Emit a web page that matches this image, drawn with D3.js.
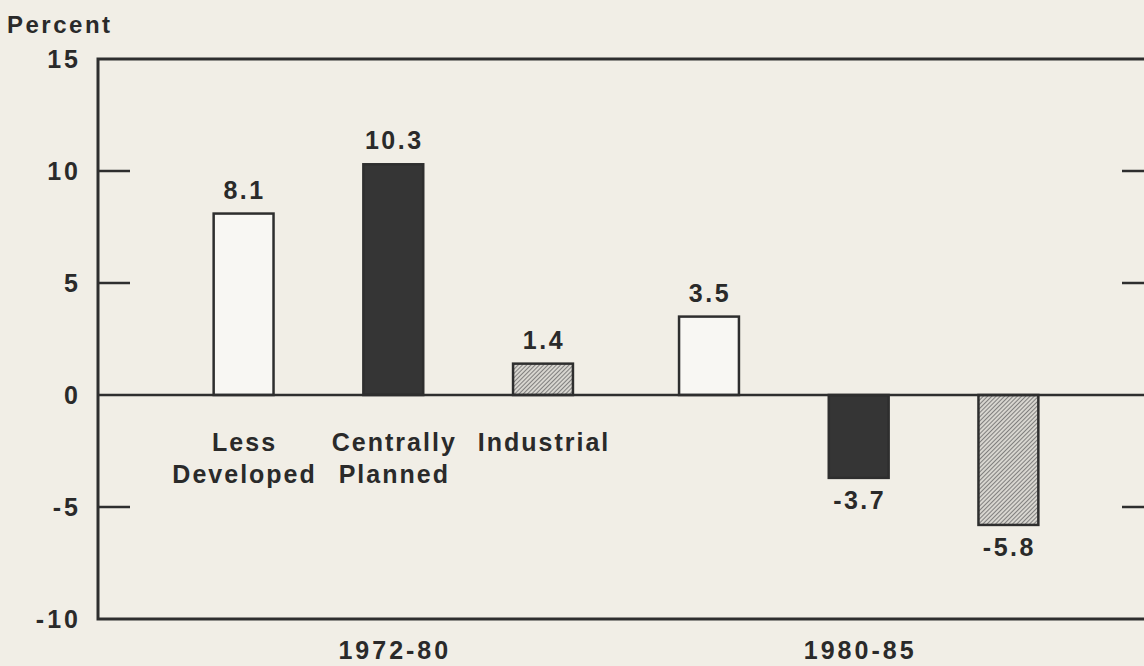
<!DOCTYPE html>
<html>
<head>
<meta charset="utf-8">
<script src="https://d3js.org/d3.v7.min.js"></script>
<style>
  body { margin: 0; background: #f1eee6; }
  text { font-family: "Liberation Sans", Arial, sans-serif; font-weight: bold; fill: #2a2a2a; }
</style>
</head>
<body>
<div id="chart-area"></div>
<script>
// data
const periods = ["1972-80", "1980-85"]
const regions = ["Less Developed", "Centrally Planned", "Industrial"]
const regionLines = [["Less", "Developed"], ["Centrally", "Planned"], ["Industrial"]]
const values7280 = [8.1, 10.3, 1.4]
const values8085 = [3.5, -3.7, -5.8]
const yLabelTicks = [-10, -5, 0, 5, 10, 15]
const innerTicks = [-5, 5, 10]

const data = []
periods.forEach((p, i) => {
  const vals = i === 0 ? values7280 : values8085
  regions.forEach((r, j) => data.push({ period: p, region: r, value: vals[j] }))
})

// drawing area (right edge of the frame falls just outside the picture)
const margin = { left: 98, right: -10, top: 59, bottom: 47 }
const W = 1144, H = 666
const width = W - margin.left - margin.right
const height = H - margin.top - margin.bottom

const svg = d3.select("#chart-area").append("svg")
  .attr("width", W)
  .attr("height", H)

// hatch pattern for the industrial bars
const defs = svg.append("defs")
defs.append("pattern")
  .attr("id", "hatch")
  .attr("patternUnits", "userSpaceOnUse")
  .attr("width", 3)
  .attr("height", 3)
  .attr("patternTransform", "rotate(45)")
  .call(p => {
    p.append("rect").attr("width", 3).attr("height", 3).attr("fill", "#d8d6d0")
    p.append("line").attr("x1", 0).attr("y1", 0).attr("x2", 0).attr("y2", 3)
      .attr("stroke", "#5a5a5a").attr("stroke-width", 1.4)
  })

const grafico = svg.append("g")
  .attr("transform", `translate(${margin.left}, ${margin.top})`)

// scales
const y = d3.scaleLinear()
  .domain([-10, 15])
  .range([height, 0])

const x0 = d3.scaleBand()
  .domain(periods)
  .range([0, width])
  .paddingInner(0.035)
  .paddingOuter(0.152)

const x1 = d3.scaleBand()
  .domain(regions)
  .range([0, x0.bandwidth()])
  .paddingInner(0.6)
  .paddingOuter(0.3)

const fills = {
  "Less Developed": "#f8f7f3",
  "Centrally Planned": "#353535",
  "Industrial": "url(#hatch)"
}

// frame
grafico.append("rect")
  .attr("x", 0)
  .attr("y", 0)
  .attr("width", width)
  .attr("height", height)
  .attr("fill", "none")
  .attr("stroke", "#2e2e2e")
  .attr("stroke-width", 3)

// tick marks on both sides
grafico.selectAll(".tick-l")
  .data(innerTicks)
  .enter().append("line")
  .attr("x1", 0).attr("x2", 32)
  .attr("y1", d => y(d)).attr("y2", d => y(d))
  .attr("stroke", "#2e2e2e").attr("stroke-width", 2.5)

grafico.selectAll(".tick-r")
  .data(innerTicks)
  .enter().append("line")
  .attr("x1", width - 32).attr("x2", width)
  .attr("y1", d => y(d)).attr("y2", d => y(d))
  .attr("stroke", "#2e2e2e").attr("stroke-width", 2.5)

// y tick labels
grafico.selectAll(".ylab")
  .data(yLabelTicks)
  .enter().append("text")
  .attr("x", -17)
  .attr("y", d => y(d) + 9)
  .attr("text-anchor", "end")
  .attr("font-size", "25px")
  .attr("letter-spacing", "3px")
  .text(d => d < 0 ? "-" + Math.abs(d) : d)

// axis title
svg.append("text")
  .attr("x", 7)
  .attr("y", 33)
  .attr("font-size", "24px")
  .attr("letter-spacing", "2.5px")
  .text("Percent")

// bars
grafico.selectAll(".bar")
  .data(data)
  .enter().append("rect")
  .attr("x", d => x0(d.period) + x1(d.region))
  .attr("y", d => y(Math.max(0, d.value)))
  .attr("width", x1.bandwidth())
  .attr("height", d => Math.abs(y(d.value) - y(0)))
  .attr("fill", d => fills[d.region])
  .attr("stroke", "#2e2e2e")
  .attr("stroke-width", 2.5)

// zero line
grafico.append("line")
  .attr("x1", 0).attr("x2", width)
  .attr("y1", y(0)).attr("y2", y(0))
  .attr("stroke", "#2e2e2e").attr("stroke-width", 2.5)

// value labels
grafico.selectAll(".val")
  .data(data)
  .enter().append("text")
  .attr("x", d => x0(d.period) + x1(d.region) + x1.bandwidth() / 2 + 1)
  .attr("y", d => d.value >= 0 ? y(d.value) - 15 : y(d.value) + 31)
  .attr("text-anchor", "middle")
  .attr("font-size", "25px")
  .attr("letter-spacing", "2.5px")
  .text(d => d.value.toFixed(1))

// region labels under the first group
regionLines.forEach((lines, j) => {
  const cx = x0(periods[0]) + x1(regions[j]) + x1.bandwidth() / 2 + 1
  lines.forEach((t, k) => {
    grafico.append("text")
      .attr("x", cx)
      .attr("y", y(0) + 56 + k * 32)
      .attr("text-anchor", "middle")
      .attr("font-size", "25px")
      .attr("letter-spacing", "2px")
      .text(t)
  })
})

// period labels
grafico.selectAll(".period")
  .data(periods)
  .enter().append("text")
  .attr("x", d => x0(d) + x0.bandwidth() / 2 + 1.5)
  .attr("y", height + 40)
  .attr("text-anchor", "middle")
  .attr("font-size", "25px")
  .attr("letter-spacing", "3px")
  .text(d => d)
</script>
</body>
</html>
